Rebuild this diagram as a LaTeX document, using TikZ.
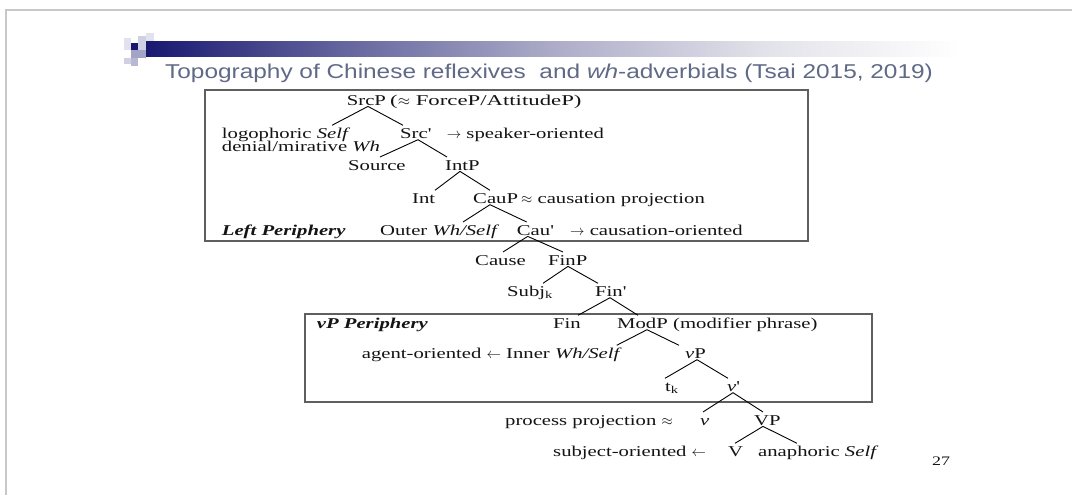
\documentclass[tikz,border=0pt]{standalone}
\usepackage{fontspec}
\setmainfont{Liberation Serif}[FakeStretch=1.38]
\newfontfamily\titlefont{Liberation Sans}[FakeStretch=1.22]
\usetikzlibrary{calc}

\definecolor{ink}{RGB}{20,20,20}
\definecolor{titleblue}{RGB}{96,106,134}
\definecolor{boxgray}{RGB}{95,95,95}
\definecolor{pagegray}{RGB}{200,200,200}
\definecolor{barA}{RGB}{24,24,112}
\definecolor{barB}{RGB}{100,100,158}
\definecolor{barC}{RGB}{172,172,200}
\definecolor{barD}{RGB}{226,226,234}
\definecolor{sqA}{RGB}{226,226,239}
\definecolor{sqB}{RGB}{208,208,228}
\definecolor{sqC}{RGB}{164,164,200}
\definecolor{sqD}{RGB}{184,184,212}

% horizontal gradient of the heading bar (the path spans 25bp..75bp)
\pgfdeclarehorizontalshading{barshade}{100bp}{color(0bp)=(barA); color(25bp)=(barA);
  color(37bp)=(barB); color(50bp)=(barC); color(63bp)=(barD); color(75bp)=(white); color(100bp)=(white)}

\newcommand{\rarr}{$\rightarrow$}
\newcommand{\larr}{$\leftarrow$}
\newcommand{\approxsign}{$\approx$}
\newcommand{\xbar}{\textquotesingle}

\begin{document}
\begin{tikzpicture}[x=1pt,y=-1pt,
  tn/.style={anchor=base west, inner sep=0pt, text height=13pt, text depth=1pt,
             font=\fontsize{15}{15}\selectfont, text=ink},
  edge/.style={draw=black, line width=0.9pt},
  panel/.style={draw=boxgray, line width=1.3pt},
]
\useasboundingbox (0,0) rectangle (1072,495);
\fill[white] (0,0) rectangle (1072,495);

% page frame
\draw[pagegray, line width=1.5pt] (6,495) -- (6,10) -- (1072,10);

% heading ornament and bar
\fill[sqA] (124,38) rectangle (131,50);
\fill[barA] (131,43) rectangle (138,50);
\fill[sqB] (138,36) rectangle (146,58);
\fill[sqA] (146,33) rectangle (154,41);
\fill[sqC] (131,50) rectangle (146,58);
\fill[sqB] (124,58) rectangle (131,64);
\fill[sqD] (131,58) rectangle (138,66);
\shade[shading=barshade] (146,42) rectangle (960,57);

\node[anchor=base west, inner sep=0pt, text=titleblue] (title) at (165,78)
  {\titlefont\fontsize{20}{20}\selectfont Topography of Chinese reflexives\ \ and \textit{wh}-adverbials (Tsai 2015, 2019)};

% periphery panels
\draw[panel] (205,90) rectangle (808,241);
\draw[panel] (305,314) rectangle (872,402);

\begin{scope}[yshift=1.5pt]
% tree labels
\node[tn] (SrcP)  at (346.7,106.7) {SrcP};
\node[tn] (SrcPa) at (390,106.7)   {\scalebox{1.1}[1]{(\approxsign\ ForceP/AttitudeP)}};

\node[tn] (logo)  at (221.7,140)   {logophoric \textit{Self}};
\node[tn] (Srcb)  at (400,140)     {Src\xbar};
\node[tn] (spk)   at (446.7,140)   {\rarr\ speaker-oriented};
\node[tn] (deny)  at (221.7,153.3) {denial/mirative \textit{Wh}};

\node[tn] (Source) at (348,171.7)  {Source};
\node[tn] (IntP)   at (445,171.7)  {IntP};

\node[tn] (Int)   at (412,205)     {Int};
\node[tn] (CauP)  at (473,205)     {CauP};
\node[tn] (caupa) at (521,205)     {\approxsign\ causation projection};

\node[tn] (LP)     at (221.7,236.7) {\textbf{\textit{Left Periphery}}};
\node[tn] (outer)  at (380,236.7)   {Outer \textit{Wh/Self}};
\node[tn] (Caub)   at (516.7,236.7) {Cau\xbar};
\node[tn] (causor) at (570,236.7)   {\rarr\ causation-oriented};

\node[tn] (Cause) at (475,266.7)   {Cause};
\node[tn] (FinP)  at (548,266.7)   {FinP};

\node[tn] (Subj)  at (507,298)     {Subj\textsubscript{k}};
\node[tn] (Finb)  at (595,298)     {Fin\xbar};

\node[tn] (vPP)   at (316.7,330)   {\textbf{\textit{vP Periphery}}};
\node[tn] (Fin)   at (553,330)     {Fin};
\node[tn] (ModP)  at (617,330)     {ModP};
\node[tn] (ModPa) at ([xshift=5pt]ModP.base east) {(modifier phrase)};

\node[tn] (agent) at (361.7,360)   {agent-oriented \larr\ Inner \textit{Wh/Self}};
\node[tn] (vP)    at (685,360)     {\textit{v}P};

\node[tn] (tk)    at (665,393)     {t\textsubscript{k}};
\node[tn] (vb)    at (727,393)     {\textit{v}\xbar};

\node[tn] (proc)  at (505,426.7)   {process projection \approxsign};
\node[tn] (v)     at (700,426.7)   {\textit{v}};
\node[tn] (VP)    at (754,426.7)   {VP};

\node[tn] (subj)  at (553,458)     {subject-oriented \larr};
\node[tn] (V)     at (728,458)     {V};
\node[tn] (ana)   at (758,458)     {anaphoric \textit{Self}};

% tree branches
\draw[edge] ([xshift=21.3pt]SrcP.south west) -- ([xshift=110.3pt]logo.north west);
\draw[edge] ([xshift=21.3pt]SrcP.south west) -- ([xshift=3pt]Srcb.north west);
\draw[edge] ([xshift=18pt]Srcb.south west)   -- ([xshift=32pt]Source.north west);
\draw[edge] ([xshift=18pt]Srcb.south west)   -- ([xshift=2pt]IntP.north west);
\draw[edge] ([xshift=15pt]IntP.south west)   -- ([xshift=23pt]Int.north west);
\draw[edge] ([xshift=15pt]IntP.south west)   -- ([xshift=17pt]CauP.north west);
\draw[edge] ([xshift=17pt]CauP.south west)   -- ([xshift=83pt]outer.north west);
\draw[edge] ([xshift=17pt]CauP.south west)   -- ([xshift=10pt]Caub.north west);
\draw[edge] ([xshift=11pt]Caub.south west)   -- ([xshift=28pt]Cause.north west);
\draw[edge] ([xshift=11pt]Caub.south west)   -- ([xshift=15pt]FinP.north west);
\draw[edge] ([xshift=20pt]FinP.south west)   -- ([xshift=36pt]Subj.north west);
\draw[edge] ([xshift=20pt]FinP.south west)   -- ([xshift=3pt]Finb.north west);
\draw[edge] ([xshift=15pt]Finb.south west)   -- ([xshift=25pt]Fin.north west);
\draw[edge] ([xshift=15pt]Finb.south west)   -- ([xshift=21pt]ModP.north west);
\draw[edge] ([xshift=30pt]ModP.south west)   -- ([xshift=255pt]agent.north west);
\draw[edge] ([xshift=30pt]ModP.south west)   -- ([xshift=-6pt]vP.north west);
\draw[edge] ([xshift=12pt]vP.south west)     -- ([xshift=0pt]tk.north west);
\draw[edge] ([xshift=12pt]vP.south west)     -- ([xshift=1pt]vb.north west);
\draw[edge] ([xshift=6pt]vb.south west)      -- ([xshift=3pt]v.north west);
\draw[edge] ([xshift=6pt]vb.south west)      -- ([xshift=9pt]VP.north west);
\draw[edge] ([xshift=9pt]VP.south west)      -- ([xshift=7pt]V.north west);
\draw[edge] ([xshift=9pt]VP.south west)      -- ([xshift=39pt]ana.north west);
\end{scope}

\node[anchor=base west, inner sep=0pt, text=ink] (pg) at (932,465) {\fontsize{13}{13}\selectfont 27};
\end{tikzpicture}
\end{document}
